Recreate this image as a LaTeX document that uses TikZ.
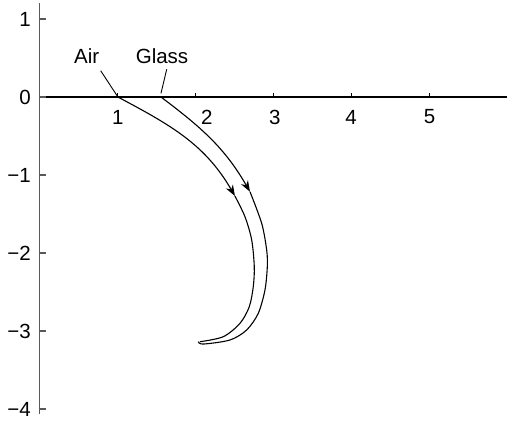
\documentclass[tikz,border=0pt]{standalone}
\usepackage{fontspec}
\setmainfont{Liberation Sans}
\usetikzlibrary{arrows.meta,positioning,calc}
\colorlet{axis grey}{black!65}
\tikzstyle{label} = [font=\fontsize{20.5}{24}\selectfont,inner sep=0pt]
\tikzstyle{ray} = [line width=1.1pt]
\tikzstyle{ray arrow} = [ray,-{Stealth[length=11pt,width=8pt,inset=3.5pt]}]

\begin{document}
\begin{tikzpicture}[x=78pt,y=78pt]
        \useasboundingbox (-0.506,-4.141) rectangle (5.994,1.244);

        % axes
        \draw[axis grey,line width=1.5pt] (0,-4.07) -- (0,1.2);
        \draw[line width=1.2pt] (0,0) -- (5.994,0);
        \foreach \y/\t in {1/1,0/0,-1/\char"2212 1,-2/\char"2212 2,-3/\char"2212 3,-4/\char"2212 4} {
            \draw[axis grey,line width=1.2pt] (0,\y) -- (0.08,\y);
            \node[label,anchor=east] (ylab\y) at (-0.11,\y) {\t};
        }
        \foreach \x/\lx in {1/1.006,2/2.147,3/3.019,4/3.994,5/5.0} {
            \draw[line width=1pt] (\x,0) -- (\x,0.055);
            \node[label] (xlab\x) at (\lx,-0.256) {\x};
        }

        \node[label] (air) at (0.605,0.526) {Air};
        \node[label] (glass) at (1.571,0.526) {Glass};
        \coordinate (airlead) at (0.785,0.337);
        \coordinate (glasslead) at (1.631,0.355);

        % air ray
        \coordinate (a0) at (1.006,0);
        \coordinate (a1) at (2.506,-1.269);
        \coordinate (a2) at (2.058,-3.137);
        % glass ray
        \coordinate (g0) at (1.558,0);
        \coordinate (g1) at (2.699,-1.214);
        \coordinate (g2) at (2.036,-3.137);

        \draw[line width=0.9pt] (airlead) -- (a0);
        \draw[line width=0.9pt] (glasslead) -- ($(g0)+(0,0.047)$);

        \draw[ray arrow] (a0) to[out=-28,in=120] (a1);
        \draw[ray] plot[smooth] coordinates {(a1) (2.635,-1.535) (2.721,-1.833) (2.754,-2.176)
            (2.741,-2.432) (2.69,-2.688) (2.571,-2.901) (2.356,-3.073) (a2)};
        \draw[ray arrow] (g0) to[out=-37,in=120] (g1);
        \draw[ray] plot[smooth] coordinates {(g1) (2.849,-1.619) (2.913,-1.962) (2.921,-2.176)
            (2.891,-2.474) (2.805,-2.773) (2.656,-2.987) (2.442,-3.115) (2.1,-3.167) (g2)};
    \end{tikzpicture}
\end{document}
